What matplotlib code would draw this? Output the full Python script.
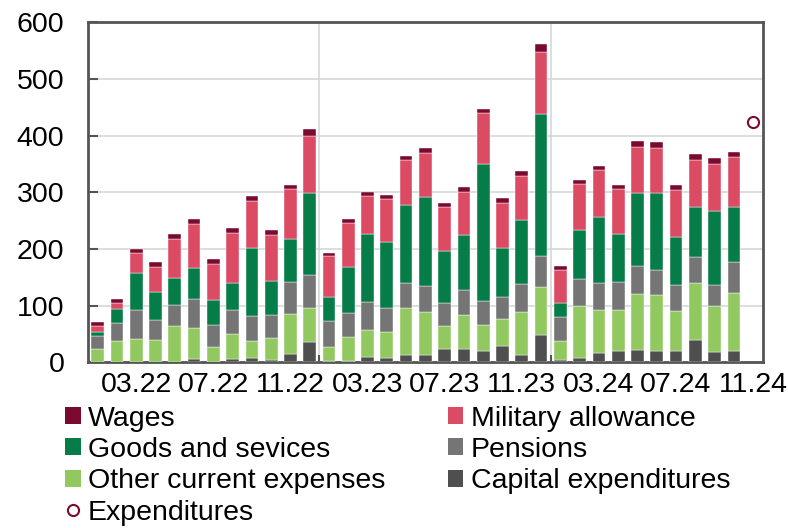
import matplotlib
matplotlib.use("Agg")
import matplotlib.pyplot as plt
import numpy as np
from matplotlib.lines import Line2D
from matplotlib.patches import Patch

plt.rcParams['font.family'] = ['Liberation Sans', 'DejaVu Sans']

months = ["01.22", "02.22", "03.22", "04.22", "05.22", "06.22", "07.22", "08.22", "09.22", "10.22", "11.22", "12.22",
          "01.23", "02.23", "03.23", "04.23", "05.23", "06.23", "07.23", "08.23", "09.23", "10.23", "11.23", "12.23",
          "01.24", "02.24", "03.24", "04.24", "05.24", "06.24", "07.24", "08.24", "09.24", "10.24", "11.24"]

capital = [1, 0.5, 0.5, 1, 0.5, 6, 1, 6, 8, 4.7, 15, 36.5,
           2, 1.5, 9.4, 7.6, 13, 13, 23.5, 24, 20, 28.8, 13, 48,
           3.5, 7.6, 16, 20, 21.8, 20, 20, 40, 17.6, 20]
other = [22, 37, 40.5, 38, 63.5, 54, 25, 43, 29.6, 38.8, 70, 58.5,
         24.5, 42.5, 47, 46, 83, 75, 41, 60, 46.5, 47.7, 75, 85,
         34.7, 91, 76.5, 73, 99, 98, 70, 99, 82.4, 102.4]
pensions = [23.5, 31, 52, 35, 36.6, 51, 39, 44, 44.7, 39.5, 56, 59,
            46, 42, 49, 42, 43.5, 47, 39.5, 43, 41, 38, 50, 55,
            41, 47.7, 48, 49.4, 49.6, 45.5, 46.5, 47.5, 36.5, 55]
goods = [7.5, 25, 65, 49.5, 47.6, 56, 45.6, 46, 118.6, 60, 76, 145.4,
         43, 82, 120, 117, 138.6, 157, 92.5, 97, 243, 86.5, 113.7, 250,
         25.3, 87, 116, 83, 129, 134.5, 84.5, 86.5, 129.5, 96.4]
military = [9.5, 11, 34, 44.5, 69.6, 76.5, 63, 88.6, 84, 81, 88, 100,
            72, 78, 68, 75, 78, 76.4, 77.5, 76, 89, 80, 76, 109.6,
            57.7, 81, 82, 80, 80.6, 80.8, 82.5, 83.5, 84, 87.6]
wages = [7, 7, 8, 8, 7.6, 8.5, 8.5, 9, 7.5, 9, 8.5, 11.6,
         6, 7.5, 7, 7, 7.5, 8.8, 7.6, 9.4, 7, 9, 9.4, 13.5,
         7, 7.6, 8, 8, 10, 10, 10, 10.5, 10, 9.4]
expenditures_month = "11.24"
expenditures_value = 424

tick_labels = ["03.22", "07.22", "11.22", "03.23", "07.23", "11.23", "03.24", "07.24", "11.24"]

series = [
    ("Capital expenditures", capital, "#4f4f4f"),
    ("Other current expenses", other, "#92c860"),
    ("Pensions", pensions, "#757575"),
    ("Goods and sevices", goods, "#067d48"),
    ("Military allowance", military, "#dc4b64"),
    ("Wages", wages, "#7b0a30"),
]

FS = 20.5

fig = plt.figure(figsize=(7.88, 5.28), dpi=100)
ax = fig.add_axes([0.1117, 0.314, 0.8563, 0.644])

x = np.arange(len(capital))
bottom = np.zeros(len(capital))
handles = {}
for name, vals, col in series:
    v = np.array(vals, dtype=float)
    ax.bar(x, v, bottom=bottom, width=0.66, color=col, edgecolor='white', linewidth=0.3, zorder=3)
    bottom += v
    handles[name] = Patch(facecolor=col, edgecolor='none')

ex = months.index(expenditures_month)
ax.plot([ex], [expenditures_value], linestyle='none', marker='o', markersize=8,
        markerfacecolor='white', markeredgecolor='#7b0a30', markeredgewidth=1.5, zorder=4)
handles["Expenditures"] = Line2D([], [], linestyle='none', marker='o', markersize=8,
                                 markerfacecolor='white', markeredgecolor='#7b0a30', markeredgewidth=1.5)

ax.set_xlim(-0.5, len(months) - 0.5)
ax.set_ylim(0, 600)
ax.set_yticks(np.arange(0, 601, 100))
ax.set_xticks([months.index(t) for t in tick_labels])
ax.set_xticklabels(tick_labels)
ax.set_xticks([11.5, 23.5], minor=True)

ax.tick_params(axis='y', direction='in', length=7, width=1.5, color='#555555', labelsize=FS, pad=17)
ax.tick_params(axis='x', which='major', length=0, labelsize=FS, pad=7)
ax.tick_params(axis='x', which='minor', direction='in', length=5, width=1.5, color='#555555')
ax.tick_params(axis='y', which='minor', length=0)

ax.grid(axis='y', color='#d6d8d8', linewidth=1.2, zorder=0)
ax.grid(axis='x', which='minor', color='#d6d8d8', linewidth=1.2, zorder=0)
ax.set_axisbelow(True)
for s in ax.spines.values():
    s.set_color('#555555')
    s.set_linewidth(2)

order = ["Wages", "Goods and sevices", "Other current expenses", "Expenditures",
         "Military allowance", "Pensions", "Capital expenditures"]
leg = fig.legend([handles[n] for n in order], order, ncol=2, loc='upper left',
                 bbox_to_anchor=(0.0825, 0.232), frameon=False, fontsize=FS,
                 handlelength=0.55, handleheight=0.55, handletextpad=0.25,
                 labelspacing=0.19, columnspacing=2.2, borderpad=0, borderaxespad=0)

fig.savefig("out.png", dpi=100)
